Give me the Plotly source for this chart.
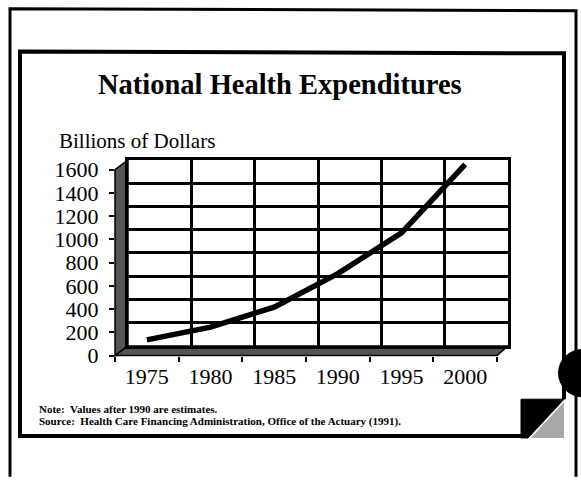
import plotly.graph_objects as go

# ---- data ----
years = [1975, 1980, 1985, 1990, 1995, 2000]
spending = [135, 245, 417, 705, 1056, 1645]          # billions of dollars
year_ticks = [1975, 1980, 1985, 1990, 1995, 2000]
year_labels = [str(y) for y in year_ticks]
value_ticks = [0, 200, 400, 600, 800, 1000, 1200, 1400, 1600]

title_text = "National Health Expenditures"
ylabel_text = "Billions of Dollars"
note_text = "Note:  Values after 1990 are estimates."
source_text = "Source:  Health Care Financing Administration, Office of the Actuary (1991)."

W, H = 581, 481
SERIF = "Liberation Serif, Times New Roman, serif"


def fx(px):
    return px / W


def fy(py):
    return 1 - py / H


fig = go.Figure()
# empty trace so the back-plane (grid) subplot gets drawn
fig.add_trace(go.Scatter(x=[], y=[], xaxis="x", yaxis="y", mode="lines",
                         showlegend=False, hoverinfo="skip"))
fig.add_trace(go.Scatter(
    x=years, y=spending, xaxis="x2", yaxis="y2", mode="lines",
    line=dict(color="black", width=5.5),
    showlegend=False, hoverinfo="skip",
))

shapes = []
# 3-D wall and floor of the chart
wall = f"M {fx(115)},{fy(365)} L {fx(115)},{fy(173)} L {fx(128)},{fy(163)} L {fx(128)},{fy(355)} Z"
floor = f"M {fx(115)},{fy(365)} L {fx(128)},{fy(355)} L {fx(508)},{fy(355)} L {fx(497)},{fy(365)} Z"
for p in (wall, floor):
    shapes.append(dict(type="path", path=p, xref="paper", yref="paper",
                       fillcolor="#555555", line=dict(color="black", width=1.5), layer="below"))

# outer and inner frames
shapes.append(dict(type="path", xref="paper", yref="paper", layer="below",
                   path=f"M {fx(10)},{fy(490)} L {fx(10)},{fy(7)} L {fx(576)},{fy(9)} L {fx(576)},{fy(490)}",
                   line=dict(color="black", width=3)))
shapes.append(dict(type="path", xref="paper", yref="paper", layer="below",
                   path=f"M {fx(521)},{fy(448)} L {fx(20)},{fy(448)} L {fx(20)},{fy(51)} L {fx(564)},{fy(53)} L {fx(564)},{fy(410)}",
                   line=dict(color="black", width=4)))
# page curl
shapes.append(dict(type="path", xref="paper", yref="paper", layer="below",
                   path=f"M {fx(521)},{fy(410)} L {fx(564)},{fy(410)} L {fx(528)},{fy(450)} L {fx(521)},{fy(450)} Z",
                   fillcolor="black", line=dict(color="black", width=1)))
shapes.append(dict(type="path", xref="paper", yref="paper", layer="below",
                   path=f"M {fx(564)},{fy(413)} L {fx(564)},{fy(450)} L {fx(531)},{fy(450)} Z",
                   fillcolor="#a8a8a8", line=dict(color="#a8a8a8", width=0)))
# black disc at right edge
shapes.append(dict(type="circle", xref="paper", yref="paper", layer="above",
                   x0=fx(558), x1=fx(608), y0=fy(408), y1=fy(358),
                   fillcolor="black", line=dict(color="black", width=0)))

annotations = [
    dict(text=f"<b>{title_text}</b>", x=fx(280), y=fy(85), xref="paper", yref="paper",
         xanchor="center", yanchor="middle", showarrow=False,
         font=dict(family=SERIF, size=28.5, color="black")),
    dict(text=ylabel_text, x=fx(57), y=fy(143), xref="paper", yref="paper",
         xanchor="left", yanchor="middle", showarrow=False,
         font=dict(family=SERIF, size=21, color="black")),
    dict(text=f"<b>{note_text}</b>", x=fx(37), y=fy(420), xref="paper", yref="paper",
         xanchor="left", yanchor="middle", showarrow=False,
         font=dict(family=SERIF, size=11, color="black")),
    dict(text=f"<b>{source_text}</b>", x=fx(37), y=fy(433), xref="paper", yref="paper",
         xanchor="left", yanchor="middle", showarrow=False,
         font=dict(family=SERIF, size=11, color="black")),
]

fig.update_layout(
    width=W, height=H,
    margin=dict(l=0, r=0, t=0, b=0),
    paper_bgcolor="white",
    plot_bgcolor="rgba(0,0,0,0)",
    showlegend=False,
    shapes=shapes,
    annotations=annotations,
    # back plane: the grid
    xaxis=dict(domain=[fx(128), fx(508)], range=[1972.5, 2002.5], anchor="y",
               tickmode="linear", tick0=1972.5, dtick=5, showticklabels=False, ticks="",
               showgrid=True, gridcolor="black", gridwidth=2.5, zeroline=False,
               showline=True, linecolor="black", linewidth=2.5, mirror=True),
    yaxis=dict(domain=[fy(355), fy(163)], range=[0, 1600], anchor="x",
               tickmode="linear", tick0=0, dtick=200, showticklabels=False, ticks="",
               showgrid=True, gridcolor="black", gridwidth=2.5, zeroline=False,
               showline=True, linecolor="black", linewidth=2.5, mirror=True),
    # front plane: labels, ticks and the data line
    xaxis2=dict(domain=[fx(115), fx(497)], range=[1972.5, 2002.5], anchor="y2",
                tickmode="array", tickvals=year_ticks, ticktext=year_labels, ticks="",
                minor=dict(ticks="outside", tickmode="linear", tick0=1972.5, dtick=5,
                           ticklen=5, tickwidth=1.5, tickcolor="black", showgrid=False),
                showgrid=False, zeroline=False, showline=False,
                tickfont=dict(family=SERIF, size=22, color="black"), ticklabelstandoff=5),
    yaxis2=dict(domain=[fy(365), fy(163)], range=[0, (365 - 163) / 0.12], anchor="x2",
                tickmode="array", tickvals=value_ticks, ticks="outside", ticklen=5,
                tickwidth=1.5, tickcolor="black",
                showgrid=False, zeroline=False, showline=False,
                tickfont=dict(family=SERIF, size=22, color="black"), ticklabelstandoff=6),
)

# remove the browser's default 8px body margin so the figure sits at the window corner
fig.write_html("out.html", config={"displayModeBar": False},
               post_script="document.body.style.margin='0px';")
